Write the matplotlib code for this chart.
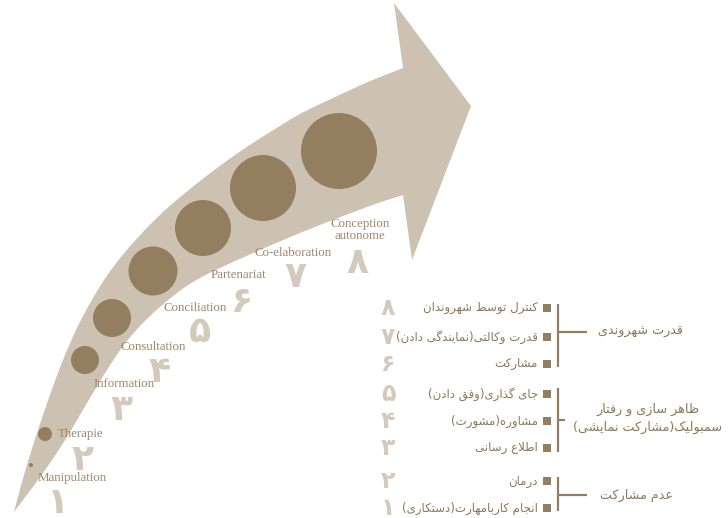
import numpy as np
import matplotlib
matplotlib.use('Agg')
import matplotlib.pyplot as plt
from matplotlib.patches import Polygon, Circle, Rectangle

# ladder levels (english labels along the arrow, 1 -> 8)
levels_en = ['Manipulation', 'Therapie', 'Information', 'Consultation',
             'Conciliation', 'Partenariat', 'Co-elaboration', 'Conception\nautonome']
levels_num = ['۱', '۲', '۳', '۴', '۵', '۶', '۷', '۸']
# size of the circle of each level (radius in px)
circle_r = [2, 7, 14, 19, 24.5, 28, 33, 38]

# persian legend (top -> bottom, 8 -> 1)
legend_fa = ['کنترل توسط شهروندان', 'قدرت وکالتی(نمایندگی دادن)', 'مشارکت',
             'جای گذاری(وفق دادن)', 'مشاوره(مشورت)', 'اطلاع رسانی',
             'درمان', 'انجام کاربامهارت(دستکاری)']
legend_num = ['۸', '۷', '۶', '۵', '۴', '۳', '۲', '۱']
groups_fa = ['قدرت شهروندی', 'ظاهر سازی و رفتار\nسمبولیک(مشارکت نمایشی)', 'عدم مشارکت']

BAND = '#cdc2b2'
DOT = '#937e5f'
TXT = '#9d876a'
FA_TXT = '#8c7859'
NUM = '#d3c9bc'


# --- tiny persian shaper (matplotlib does no arabic shaping / rtl) ---
forms = {
    'ا': (0xFE8D, 0xFE8E, None, None), 'ب': (0xFE8F, 0xFE90, 0xFE91, 0xFE92),
    'پ': (0xFB56, 0xFB57, 0xFB58, 0xFB59), 'ت': (0xFE95, 0xFE96, 0xFE97, 0xFE98),
    'ج': (0xFE9D, 0xFE9E, 0xFE9F, 0xFEA0), 'ح': (0xFEA1, 0xFEA2, 0xFEA3, 0xFEA4),
    'د': (0xFEA9, 0xFEAA, None, None), 'ذ': (0xFEAB, 0xFEAC, None, None),
    'ر': (0xFEAD, 0xFEAE, None, None), 'ز': (0xFEAF, 0xFEB0, None, None),
    'س': (0xFEB1, 0xFEB2, 0xFEB3, 0xFEB4), 'ش': (0xFEB5, 0xFEB6, 0xFEB7, 0xFEB8),
    'ط': (0xFEC1, 0xFEC2, 0xFEC3, 0xFEC4), 'ظ': (0xFEC5, 0xFEC6, 0xFEC7, 0xFEC8),
    'ع': (0xFEC9, 0xFECA, 0xFECB, 0xFECC), 'ف': (0xFED1, 0xFED2, 0xFED3, 0xFED4),
    'ق': (0xFED5, 0xFED6, 0xFED7, 0xFED8), 'ک': (0xFB8E, 0xFB8F, 0xFB90, 0xFB91),
    'گ': (0xFB92, 0xFB93, 0xFB94, 0xFB95), 'ل': (0xFEDD, 0xFEDE, 0xFEDF, 0xFEE0),
    'م': (0xFEE1, 0xFEE2, 0xFEE3, 0xFEE4), 'ن': (0xFEE5, 0xFEE6, 0xFEE7, 0xFEE8),
    'و': (0xFEED, 0xFEEE, None, None), 'ه': (0xFEE9, 0xFEEA, 0xFEEB, 0xFEEC),
    'ی': (0xFBFC, 0xFBFD, 0xFBFE, 0xFBFF),
}


def joins_left(c):
    return c in forms and forms[c][2] is not None


def shape(s):
    out = []
    i = 0
    while i < len(s):
        c = s[i]
        prev = s[i - 1] if i > 0 else ''
        if c not in forms:
            out.append(c)
            i += 1
            continue
        con_prev = joins_left(prev)
        if c == 'ل' and i + 1 < len(s) and s[i + 1] == 'ا':
            out.append(chr(0xFEFC if con_prev else 0xFEFB))
            i += 2
            continue
        nxt = s[i + 1] if i + 1 < len(s) else ''
        con_next = joins_left(c) and nxt in forms
        iso, fin, ini, med = forms[c]
        if con_prev and con_next:
            out.append(chr(med))
        elif con_prev:
            out.append(chr(fin))
        elif con_next:
            out.append(chr(ini))
        else:
            out.append(chr(iso))
        i += 1
    vis = ''.join(out)[::-1]
    return vis.translate(str.maketrans('()', ')('))


def fa(s):
    return '\n'.join(shape(line) for line in s.split('\n'))


def smooth(pts, n=12):
    # catmull-rom through the outline points
    pts = np.asarray(pts, float)
    p = np.vstack([pts[0], pts, pts[-1]])
    res = []
    for k in range(1, len(p) - 2):
        p0, p1, p2, p3 = p[k - 1], p[k], p[k + 1], p[k + 2]
        for t in np.linspace(0, 1, n, endpoint=False):
            t2, t3 = t * t, t * t * t
            res.append(0.5 * ((2 * p1) + (-p0 + p2) * t + (2 * p0 - 5 * p1 + 4 * p2 - p3) * t2
                              + (-p0 + 3 * p1 - 3 * p2 + p3) * t3))
    res.append(pts[-1])
    return np.array(res)


fig = plt.figure(figsize=(7.28, 5.18), dpi=100)
ax = fig.add_axes([0, 0, 1, 1])
ax.set_xlim(0, 728)
ax.set_ylim(518, 0)
ax.axis('off')

# arrow outline (pixel coords)
outer = [(14, 512), (22, 482), (30, 455), (40, 424), (51, 392), (63, 360), (77, 328),
         (93, 298), (111, 270), (133, 243), (163, 212), (200, 181), (235, 155),
         (267, 134), (300, 114), (333, 98), (368, 82), (403, 68)]
inner = [(403, 195), (367, 207), (300, 233), (233, 262), (200, 278), (177, 293),
         (150, 316), (127, 341), (107, 370), (87, 403), (67, 437), (43, 473), (14, 512)]
head = [(394, 3), (471, 106), (412, 260)]
shape_pts = np.vstack([smooth(outer), head, smooth(inner)])
ax.add_patch(Polygon(shape_pts, closed=True, fc=BAND, ec='none'))

# level circles
centers = [(31, 465), (45, 434), (85, 360), (112, 318), (153, 271), (203, 228), (263, 188), (339, 151)]
for (cx, cy), r in zip(centers, circle_r):
    ax.add_patch(Circle((cx, cy), r, fc=DOT, ec='none'))

# english labels + big persian numerals (numerals placed by their baseline)
label_pos = [(72, 478), (81, 434), (124, 384), (153, 347), (195, 308), (238, 275), (293, 253), (360, 230)]
num_pos = [(58, 513), (83, 470), (122, 420), (160, 382), (200, 342), (242, 312), (295, 287), (357, 273)]
for lab, (x, y) in zip(levels_en, label_pos):
    ax.text(x, y, lab, ha='center', va='center', fontsize=9.3, color=TXT,
            family='Liberation Serif', linespacing=1.0)
for num, (x, y) in zip(levels_num, num_pos):
    ax.text(x, y, num, ha='center', va='baseline', fontsize=26, color=NUM,
            family='DejaVu Sans', fontweight='bold')

# cropped title bits at the very top
for x in (356, 693):
    ax.text(x, -8, shape('ج'), ha='center', va='baseline', fontsize=22, color='black',
            family='DejaVu Sans')

# persian legend on the right
row_y = [308, 337, 364, 394, 421, 448, 481, 508]
for txt, num, y in zip(legend_fa, legend_num, row_y):
    ax.text(388, y + 7, num, ha='center', va='baseline', fontsize=17, color=NUM,
            family='DejaVu Sans', fontweight='bold')
    ax.text(538, y, shape(txt), ha='right', va='center', fontsize=8.5, color=FA_TXT,
            family='DejaVu Sans')
    ax.add_patch(Rectangle((543, y - 4), 8, 8, fc=DOT, ec='none'))

# group brackets
bracket = [(304, 367, 332, 587), (388, 452, 420, 565), (477, 511, 495, 587)]
group_xy = [(640, 332), (648, 418), (637, 495)]
for (y0, y1, ym, xe), g, (gx, gy) in zip(bracket, groups_fa, group_xy):
    ax.plot([558, 558], [y0, y1], color=DOT, lw=1.6, solid_capstyle='butt')
    ax.plot([558, xe], [ym, ym], color=DOT, lw=1.6, solid_capstyle='butt')
    ax.text(gx, gy, fa(g), ha='center', va='center', fontsize=9.2, color=FA_TXT,
            family='DejaVu Sans', linespacing=1.5, multialignment='center')

fig.savefig('out.png', dpi=100)
